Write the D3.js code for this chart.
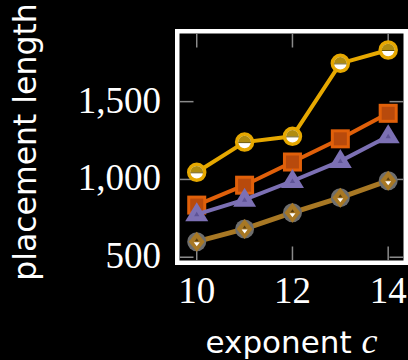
<!DOCTYPE html>
<html>
<head>
<meta charset="utf-8">
<script src="https://cdn.jsdelivr.net/npm/d3@7"></script>
<style>
  html, body { margin: 0; padding: 0; background: #000; }
  svg { display: block; }
</style>
</head>
<body>
<svg width="408" height="360"></svg>
<script>
// Data
const exponents = [10, 11, 12, 13, 14];
const yellowSeries = [1046, 1240, 1277, 1746, 1832];
const orangeSeries = [835, 963, 1112, 1261, 1425];
const purpleSeries = [776, 870, 990, 1118, 1277];
const brownSeries = [600, 682, 786, 883, 992];
const xTicks = [10, 12, 14];
const yTicks = [500, 1000, 1500];

const svg = d3.select("svg");

// Scales (plot area inside the white frame)
const xScale = d3.scaleLinear().domain([9.64, 14.32]).range([179.5, 403.5]);
const yScale = d3.scaleLinear().domain([479, 1938]).range([260.5, 33.5]);

const [x0, x1] = xScale.range();
const [y0, y1] = yScale.range();

// Frame
svg.append("rect")
  .attr("x", x0 - 2.25)
  .attr("y", y1 - 2.25)
  .attr("width", x1 - x0 + 4.5)
  .attr("height", y0 - y1 + 4.5)
  .attr("fill", "#000")
  .attr("stroke", "#fff")
  .attr("stroke-width", 4.5);

// Ticks (inside, all four sides)
const tickLen = 14;
const tickColor = "#8a8a8a";
const ticks = svg.append("g").attr("stroke", tickColor).attr("stroke-width", 1.5);
xTicks.forEach(t => {
  const x = xScale(t);
  ticks.append("line").attr("x1", x).attr("x2", x).attr("y1", y0).attr("y2", y0 - tickLen);
  ticks.append("line").attr("x1", x).attr("x2", x).attr("y1", y1).attr("y2", y1 + tickLen);
});
yTicks.forEach(t => {
  const y = yScale(t);
  ticks.append("line").attr("x1", x0).attr("x2", x0 + tickLen).attr("y1", y).attr("y2", y);
  ticks.append("line").attr("x1", x1).attr("x2", x1 - tickLen).attr("y1", y).attr("y2", y);
});

// Tick labels
const serif = "'Liberation Serif', 'DejaVu Serif', serif";
svg.selectAll(".xlab")
  .data(xTicks)
  .enter()
  .append("text")
    .attr("x", d => xScale(d))
    .attr("y", 303)
    .attr("text-anchor", "middle")
    .attr("font-family", serif)
    .attr("font-size", 37)
    .attr("fill", "#fff")
    .text(d => d);

svg.selectAll(".ylab")
  .data(yTicks)
  .enter()
  .append("text")
    .attr("x", 161)
    .attr("y", d => yScale(d) + 11)
    .attr("text-anchor", "end")
    .attr("font-family", serif)
    .attr("font-size", 37)
    .attr("fill", "#fff")
    .text(d => d3.format(",")(d));

// Axis titles
const sans = "'DejaVu Sans', sans-serif";
const xTitle = svg.append("text")
  .attr("x", (x0 + x1) / 2)
  .attr("y", 353)
  .attr("text-anchor", "middle")
  .attr("font-family", sans)
  .attr("font-size", 31)
  .attr("fill", "#fff");
xTitle.append("tspan").text("exponent ");
xTitle.append("tspan")
  .attr("font-family", serif)
  .attr("font-style", "italic")
  .attr("font-size", 36)
  .text("c");

svg.append("text")
  .attr("transform", `translate(36, 142) rotate(-90)`)
  .attr("text-anchor", "middle")
  .attr("font-family", sans)
  .attr("font-size", 31.5)
  .attr("fill", "#fff")
  .text("placement length");

// Series
const line = d3.line()
  .x(d => xScale(d.x))
  .y(d => yScale(d.y));

function pts(values) {
  return exponents.map((x, i) => ({ x, y: values[i] }));
}

function drawLine(values, color, width) {
  svg.append("path")
    .datum(pts(values))
    .attr("d", line)
    .attr("fill", "none")
    .attr("stroke", color)
    .attr("stroke-width", width);
}

// Yellow: half-filled circles
const yellow = "#e6a800";
drawLine(yellowSeries, yellow, 4);
const yg = svg.selectAll(".ym").data(pts(yellowSeries)).enter().append("g")
  .attr("transform", d => `translate(${xScale(d.x)},${yScale(d.y)})`);
yg.append("circle").attr("r", 8).attr("fill", "#fff").attr("stroke", yellow).attr("stroke-width", 3.5);
yg.append("path").attr("d", "M-6.3,0 A6.3,6.3 0 0 1 6.3,0 Z").attr("fill", "#b08c10");
yg.append("line").attr("x1", -6.3).attr("x2", 6.3).attr("y1", 0.5).attr("y2", 0.5)
  .attr("stroke", "#6a5400").attr("stroke-width", 1);

// Orange: squares
const orange = "#e0600a";
drawLine(orangeSeries, orange, 4);
svg.selectAll(".om").data(pts(orangeSeries)).enter().append("rect")
  .attr("x", d => xScale(d.x) - 8)
  .attr("y", d => yScale(d.y) - 8)
  .attr("width", 16)
  .attr("height", 16)
  .attr("fill", "#b84a0c")
  .attr("stroke", orange)
  .attr("stroke-width", 3);

// Purple: triangles
const purple = "#7c70b4";
drawLine(purpleSeries, purple, 4);
const pg = svg.selectAll(".pm").data(pts(purpleSeries)).enter().append("g")
  .attr("transform", d => `translate(${xScale(d.x)},${yScale(d.y)})`);
pg.append("path").attr("d", "M0,-12 L11.5,7 L-11.5,7 Z").attr("fill", purple);
pg.append("path").attr("d", "M0,-2.5 L2.6,2 L-2.6,2 Z").attr("fill", "#5e5396");

// Brown: diamonds in grey circles
const brown = "#a87824";
drawLine(brownSeries, brown, 5);
const bg = svg.selectAll(".bm").data(pts(brownSeries)).enter().append("g")
  .attr("transform", d => `translate(${xScale(d.x)},${yScale(d.y)})`);
bg.append("circle").attr("r", 9.5).attr("fill", "#6e6e6e");
bg.append("path").attr("d", "M0,-10 L8,0 L0,10 L-8,0 Z").attr("fill", brown);
bg.append("path").attr("d", "M-3,0.5 L3,0.5 L0,4.5 Z").attr("fill", "#fff");
bg.append("path").attr("d", "M-2,-0.5 L2,-0.5 L0,-3.5 Z").attr("fill", "#5a3f10");
</script>
</body>
</html>
